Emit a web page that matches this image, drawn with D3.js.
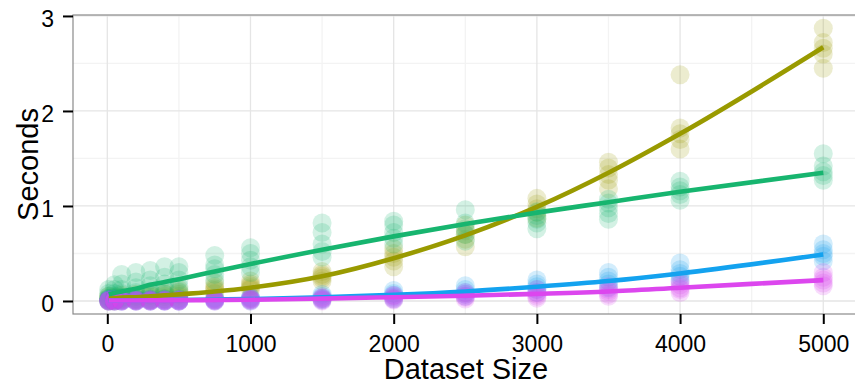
<!DOCTYPE html>
<html>
<head>
<meta charset="utf-8">
<script src="https://cdn.jsdelivr.net/npm/d3@7"></script>
<style>
  html, body { margin: 0; padding: 0; background: #fff; }
  svg { display: block; font-family: "Liberation Sans", Arial, sans-serif; }
</style>
</head>
<body>
<svg id="chart" width="855" height="382"></svg>
<script>
// Dataset sizes that were timed
const sizes = [10, 50, 100, 200, 300, 400, 500, 750, 1000, 1500, 2000, 2500, 3000, 3500, 4000, 5000];

// Repeated timings (seconds) per dataset size, one array per method
const olivePoints = [
  [0.00, 0.01, 0.02, 0.03, 0.05], [0.00, 0.01, 0.02, 0.03, 0.04], [0.01, 0.02, 0.03, 0.04, 0.06],
  [0.01, 0.02, 0.03, 0.05, 0.07], [0.01, 0.02, 0.04, 0.06, 0.08], [0.02, 0.03, 0.05, 0.07, 0.09],
  [0.03, 0.05, 0.07, 0.09, 0.12], [0.08, 0.11, 0.13, 0.15, 0.19], [0.12, 0.14, 0.16, 0.18, 0.21],
  [0.21, 0.24, 0.26, 0.28, 0.31], [0.36, 0.42, 0.46, 0.50, 0.55], [0.57, 0.65, 0.70, 0.74, 0.80],
  [0.87, 0.93, 0.97, 1.02, 1.08], [1.18, 1.27, 1.33, 1.40, 1.46], [1.60, 1.70, 1.76, 1.82, 2.38],
  [2.45, 2.60, 2.66, 2.72, 2.87]
];
const greenPoints = [
  [0.01, 0.03, 0.05, 0.08, 0.12], [0.02, 0.05, 0.08, 0.12, 0.17], [0.04, 0.08, 0.12, 0.18, 0.28],
  [0.05, 0.09, 0.14, 0.20, 0.30], [0.06, 0.10, 0.16, 0.22, 0.32], [0.07, 0.12, 0.18, 0.25, 0.36],
  [0.10, 0.15, 0.22, 0.30, 0.36], [0.22, 0.28, 0.34, 0.38, 0.48], [0.30, 0.36, 0.43, 0.50, 0.56],
  [0.46, 0.52, 0.60, 0.72, 0.82], [0.60, 0.66, 0.72, 0.80, 0.84], [0.63, 0.70, 0.76, 0.82, 0.96],
  [0.76, 0.82, 0.86, 0.90, 0.94], [0.86, 0.92, 0.98, 1.03, 1.07], [1.06, 1.12, 1.16, 1.20, 1.26],
  [1.27, 1.32, 1.36, 1.42, 1.55]
];
const bluePoints = [
  [0.00, 0.00, 0.01, 0.01, 0.02], [0.00, 0.00, 0.01, 0.01, 0.02], [0.00, 0.00, 0.01, 0.01, 0.02],
  [0.00, 0.00, 0.01, 0.01, 0.02], [0.00, 0.00, 0.01, 0.01, 0.02], [0.00, 0.00, 0.01, 0.01, 0.02],
  [0.00, 0.00, 0.01, 0.01, 0.02], [0.00, 0.01, 0.01, 0.02, 0.03], [0.00, 0.01, 0.02, 0.03, 0.04],
  [0.01, 0.02, 0.03, 0.05, 0.07], [0.02, 0.04, 0.06, 0.08, 0.11], [0.05, 0.07, 0.09, 0.12, 0.16],
  [0.09, 0.12, 0.15, 0.18, 0.22], [0.14, 0.18, 0.21, 0.25, 0.30], [0.22, 0.26, 0.29, 0.33, 0.40],
  [0.42, 0.47, 0.50, 0.54, 0.60]
];
const magentaPoints = [
  [0.00, 0.00, 0.00, 0.01, 0.01], [0.00, 0.00, 0.00, 0.01, 0.01], [0.00, 0.00, 0.00, 0.01, 0.01],
  [0.00, 0.00, 0.00, 0.01, 0.01], [0.00, 0.00, 0.00, 0.01, 0.01], [0.00, 0.00, 0.00, 0.01, 0.01],
  [0.00, 0.00, 0.00, 0.01, 0.01], [0.00, 0.00, 0.01, 0.01, 0.02], [0.00, 0.01, 0.01, 0.02, 0.03],
  [0.00, 0.01, 0.02, 0.03, 0.04], [0.01, 0.02, 0.03, 0.05, 0.06], [0.02, 0.04, 0.05, 0.07, 0.09],
  [0.03, 0.05, 0.07, 0.09, 0.12], [0.05, 0.07, 0.10, 0.12, 0.15], [0.09, 0.12, 0.14, 0.17, 0.20],
  [0.16, 0.19, 0.22, 0.25, 0.30]
];

// Smoothed trend (seconds) at each dataset size
const oliveFit   = [0.03, 0.03, 0.035, 0.04, 0.05, 0.06, 0.07, 0.10, 0.14, 0.26, 0.45, 0.69, 0.99, 1.35, 1.76, 2.67];
const greenFit   = [0.07, 0.085, 0.10, 0.13, 0.17, 0.20, 0.23, 0.31, 0.39, 0.54, 0.68, 0.81, 0.93, 1.04, 1.15, 1.35];
const blueFit    = [0.005, 0.005, 0.005, 0.006, 0.007, 0.008, 0.01, 0.015, 0.02, 0.04, 0.065, 0.10, 0.15, 0.21, 0.29, 0.49];
const magentaFit = [0.005, 0.005, 0.005, 0.005, 0.006, 0.006, 0.007, 0.01, 0.013, 0.025, 0.04, 0.055, 0.075, 0.10, 0.14, 0.22];

// Axis ticks
const xTicks = [0, 1000, 2000, 3000, 4000, 5000];
const xMinor = [500, 1500, 2500, 3500, 4500];
const yTicks = [0, 1, 2, 3];
const yMinor = [0.5, 1.5, 2.5];

const series = [
  { name: "olive",   color: "#999a00", points: olivePoints,   fit: oliveFit },
  { name: "green",   color: "#17b56f", points: greenPoints,   fit: greenFit },
  { name: "blue",    color: "#13a2ef", points: bluePoints,    fit: blueFit },
  { name: "magenta", color: "#dc46ee", points: magentaPoints, fit: magentaFit }
];

const panel = { left: 73, top: 15, right: 859, bottom: 314 };

const x = d3.scaleLinear().domain([-239.5, 5249.5]).range([panel.left, panel.right]);
const y = d3.scaleLinear().domain([-0.137, 3.01]).range([panel.bottom, panel.top]);

const svg = d3.select("#chart");

// Grid lines
const grid = svg.append("g");
grid.selectAll("line.xminor").data(xMinor).join("line")
  .attr("x1", d => x(d)).attr("x2", d => x(d))
  .attr("y1", panel.top).attr("y2", panel.bottom)
  .attr("stroke", "#f3f3f3").attr("stroke-width", 1.3);
grid.selectAll("line.yminor").data(yMinor).join("line")
  .attr("x1", panel.left).attr("x2", panel.right)
  .attr("y1", d => y(d)).attr("y2", d => y(d))
  .attr("stroke", "#f3f3f3").attr("stroke-width", 1.3);
grid.selectAll("line.xmajor").data(xTicks).join("line")
  .attr("x1", d => x(d)).attr("x2", d => x(d))
  .attr("y1", panel.top).attr("y2", panel.bottom)
  .attr("stroke", "#e5e5e5").attr("stroke-width", 1.3);
grid.selectAll("line.ymajor").data(yTicks).join("line")
  .attr("x1", panel.left).attr("x2", panel.right)
  .attr("y1", d => y(d)).attr("y2", d => y(d))
  .attr("stroke", "#e5e5e5").attr("stroke-width", 1.3);

// Individual timings
const pts = svg.append("g");
series.forEach(s => {
  const flat = [];
  s.points.forEach((reps, i) => reps.forEach(v => flat.push({ size: sizes[i], sec: v })));
  pts.append("g").selectAll("circle").data(flat).join("circle")
    .attr("cx", d => x(d.size))
    .attr("cy", d => y(d.sec))
    .attr("r", 9.5)
    .attr("fill", s.color)
    .attr("fill-opacity", 0.19);
});

// Trend lines
const line = d3.line()
  .x((d, i) => x(sizes[i]))
  .y(d => y(d))
  .curve(d3.curveMonotoneX);
series.forEach(s => {
  svg.append("path")
    .attr("d", line(s.fit))
    .attr("fill", "none")
    .attr("stroke", s.color)
    .attr("stroke-width", 4.6);
});

// Panel border
svg.append("rect")
  .attr("x", panel.left).attr("y", panel.top)
  .attr("width", panel.right - panel.left).attr("height", panel.bottom - panel.top)
  .attr("fill", "none").attr("stroke", "#8a8a8a").attr("stroke-width", 1.2);

// X axis
const xAxis = svg.append("g").attr("transform", `translate(0,${panel.bottom})`)
  .call(d3.axisBottom(x).tickValues(xTicks).tickSize(10).tickPadding(12).tickFormat(d3.format("d")));
xAxis.select(".domain").remove();
xAxis.selectAll(".tick line").attr("stroke", "#000").attr("stroke-width", 2);
xAxis.selectAll(".tick text").attr("font-size", 23).attr("fill", "#000")
  .attr("font-family", "'Liberation Sans', Arial, sans-serif");

// Y axis
const yAxis = svg.append("g").attr("transform", `translate(${panel.left},0)`)
  .call(d3.axisLeft(y).tickValues(yTicks).tickSize(10).tickPadding(9).tickFormat(d3.format("d")));
yAxis.select(".domain").remove();
yAxis.selectAll(".tick line").attr("stroke", "#000").attr("stroke-width", 2);
yAxis.selectAll(".tick text").attr("font-size", 23).attr("fill", "#000")
  .attr("dy", "0.45em")
  .attr("font-family", "'Liberation Sans', Arial, sans-serif");

// Axis titles
svg.append("text")
  .attr("x", (panel.left + panel.right) / 2).attr("y", 379)
  .attr("text-anchor", "middle").attr("font-size", 29).attr("fill", "#000")
  .text("Dataset Size");
svg.append("text")
  .attr("transform", `translate(38,${(panel.top + panel.bottom) / 2}) rotate(-90)`)
  .attr("text-anchor", "middle").attr("font-size", 29).attr("fill", "#000")
  .text("Seconds");
</script>
</body>
</html>
